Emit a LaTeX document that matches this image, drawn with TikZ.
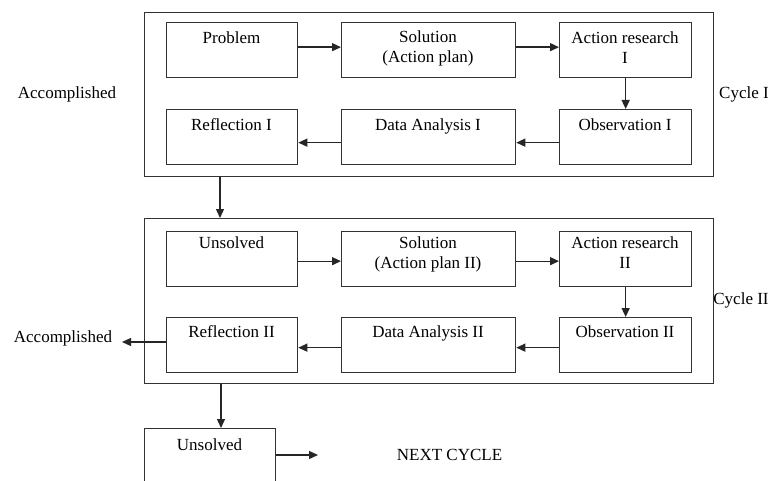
\documentclass[tikz,border=0pt]{standalone}
\usepackage{fontspec}
\setmainfont{Liberation Serif}
\usetikzlibrary{arrows.meta,calc}
\begin{document}
\begin{tikzpicture}[x=1pt,y=-1pt,
  line width=1.3pt,
  frame/.style={draw=black!80,line width=1.3pt,fill=none,inner sep=0pt,anchor=north west},
  stepbox/.style={draw=black!80,line width=1.3pt,inner sep=0pt,anchor=north west,
    minimum width=131pt,minimum height=55pt},
  widebox/.style={stepbox,minimum width=174pt},
  rbox/.style={stepbox,minimum width=132pt},
  % node centre sits on the middle of the last line's capitals
  txt/.style={font=\fontsize{17}{20}\selectfont,inner sep=0pt,align=center,
    text height=11.5pt,text depth=0pt},
  flow/.style={draw=black!85,line width=1.3pt,-{Triangle[length=9pt,width=8pt]}}]
\useasboundingbox (0,0) rectangle (773,481);
\clip (0,0) rectangle (773,481);

% ---------- Cycle I ----------
\node[frame,minimum width=569pt,minimum height=164pt] (c1) at (144,12) {};
\node[stepbox] (p1) at (166,22) {};
\node[widebox] (s1) at (341,22) {};
\node[rbox] (a1) at (559,22) {};
\node[stepbox] (r1) at (166,109) {};
\node[widebox] (d1) at (341,109) {};
\node[rbox] (o1) at (559,109) {};

\node[txt] (tp1) at (231.5,38) {Problem};
\node[txt] (ts1) at (428,57) {Solution\\(Action plan)};
\node[txt] (ta1) at (625,58) {Action research\\I};
\node[txt] (tr1) at (231.5,125) {Reflection I};
\node[txt] (td1) at (428,125) {Data Analysis I};
\node[txt] (to1) at (625,125) {Observation I};

\node[txt] (acc1) at (67,93) {Accomplished};
\node[txt] (cyc1) at (744,93) {Cycle I};

\draw[flow] ([yshift=3]p1.east) -- ([yshift=3]s1.west);
\draw[flow] ([yshift=3]s1.east) -- ([yshift=3]a1.west);
\draw[flow] (a1.south) -- (o1.north);
\draw[flow] ([yshift=-5.5]o1.west) -- ([yshift=-5.5]d1.east);
\draw[flow] ([yshift=-5.5]d1.west) -- ([yshift=-5.5]r1.east);

% ---------- Cycle II ----------
\node[frame,minimum width=569pt,minimum height=165pt] (c2) at (144,218) {};
\node[stepbox] (p2) at (166,231) {};
\node[widebox] (s2) at (341,231) {};
\node[rbox] (a2) at (559,231) {};
\node[stepbox] (r2) at (166,317) {};
\node[widebox] (d2) at (341,317) {};
\node[rbox] (o2) at (559,317) {};

\node[txt] (tp2) at (231.5,243) {Unsolved};
\node[txt] (ts2) at (428,263) {Solution\\(Action plan II)};
\node[txt] (ta2) at (625,263) {Action research\\II};
\node[txt] (tr2) at (231.5,332) {Reflection II};
\node[txt] (td2) at (428,332) {Data Analysis II};
\node[txt] (to2) at (625,332) {Observation II};

\node[txt] (acc2) at (63,337) {Accomplished};
\node[txt] (cyc2) at (741,299) {Cycle II};

\draw[flow] ([yshift=-2]p2.east) -- ([yshift=-2]s2.west);
\draw[flow] ([yshift=-2]s2.east) -- ([yshift=-2]a2.west);
\draw[flow] (a2.south) -- (o2.north);
\draw[flow] ([yshift=-2.5]o2.west) -- ([yshift=-2.5]d2.east);
\draw[flow] ([yshift=-2.5]d2.west) -- ([yshift=-2.5]r2.east);
\coordinate (accend) at (122,342);
\draw[flow] (r2.west |- accend) -- (accend);

% ---------- between cycles and after ----------
\coordinate (c1out) at ($(c1.south west)+(76,0)$);
\coordinate (c2in) at ($(c2.north west)+(76,0)$);
\draw[flow] (c1out) -- (c2in);

\node[frame,minimum width=131pt,minimum height=70pt] (u3) at (144,428) {};
\node[txt] (tu3) at (209.5,445) {Unsolved};
\node[txt] (nxt) at (449.5,455) {NEXT CYCLE};
\coordinate (c2out) at ($(c2.south west)+(77,0)$);
\draw[flow] (c2out) -- (c2out |- u3.north);
\coordinate (nxtend) at (318,455);
\draw[flow] (u3.east |- nxtend) -- (nxtend);
\end{tikzpicture}
\end{document}
